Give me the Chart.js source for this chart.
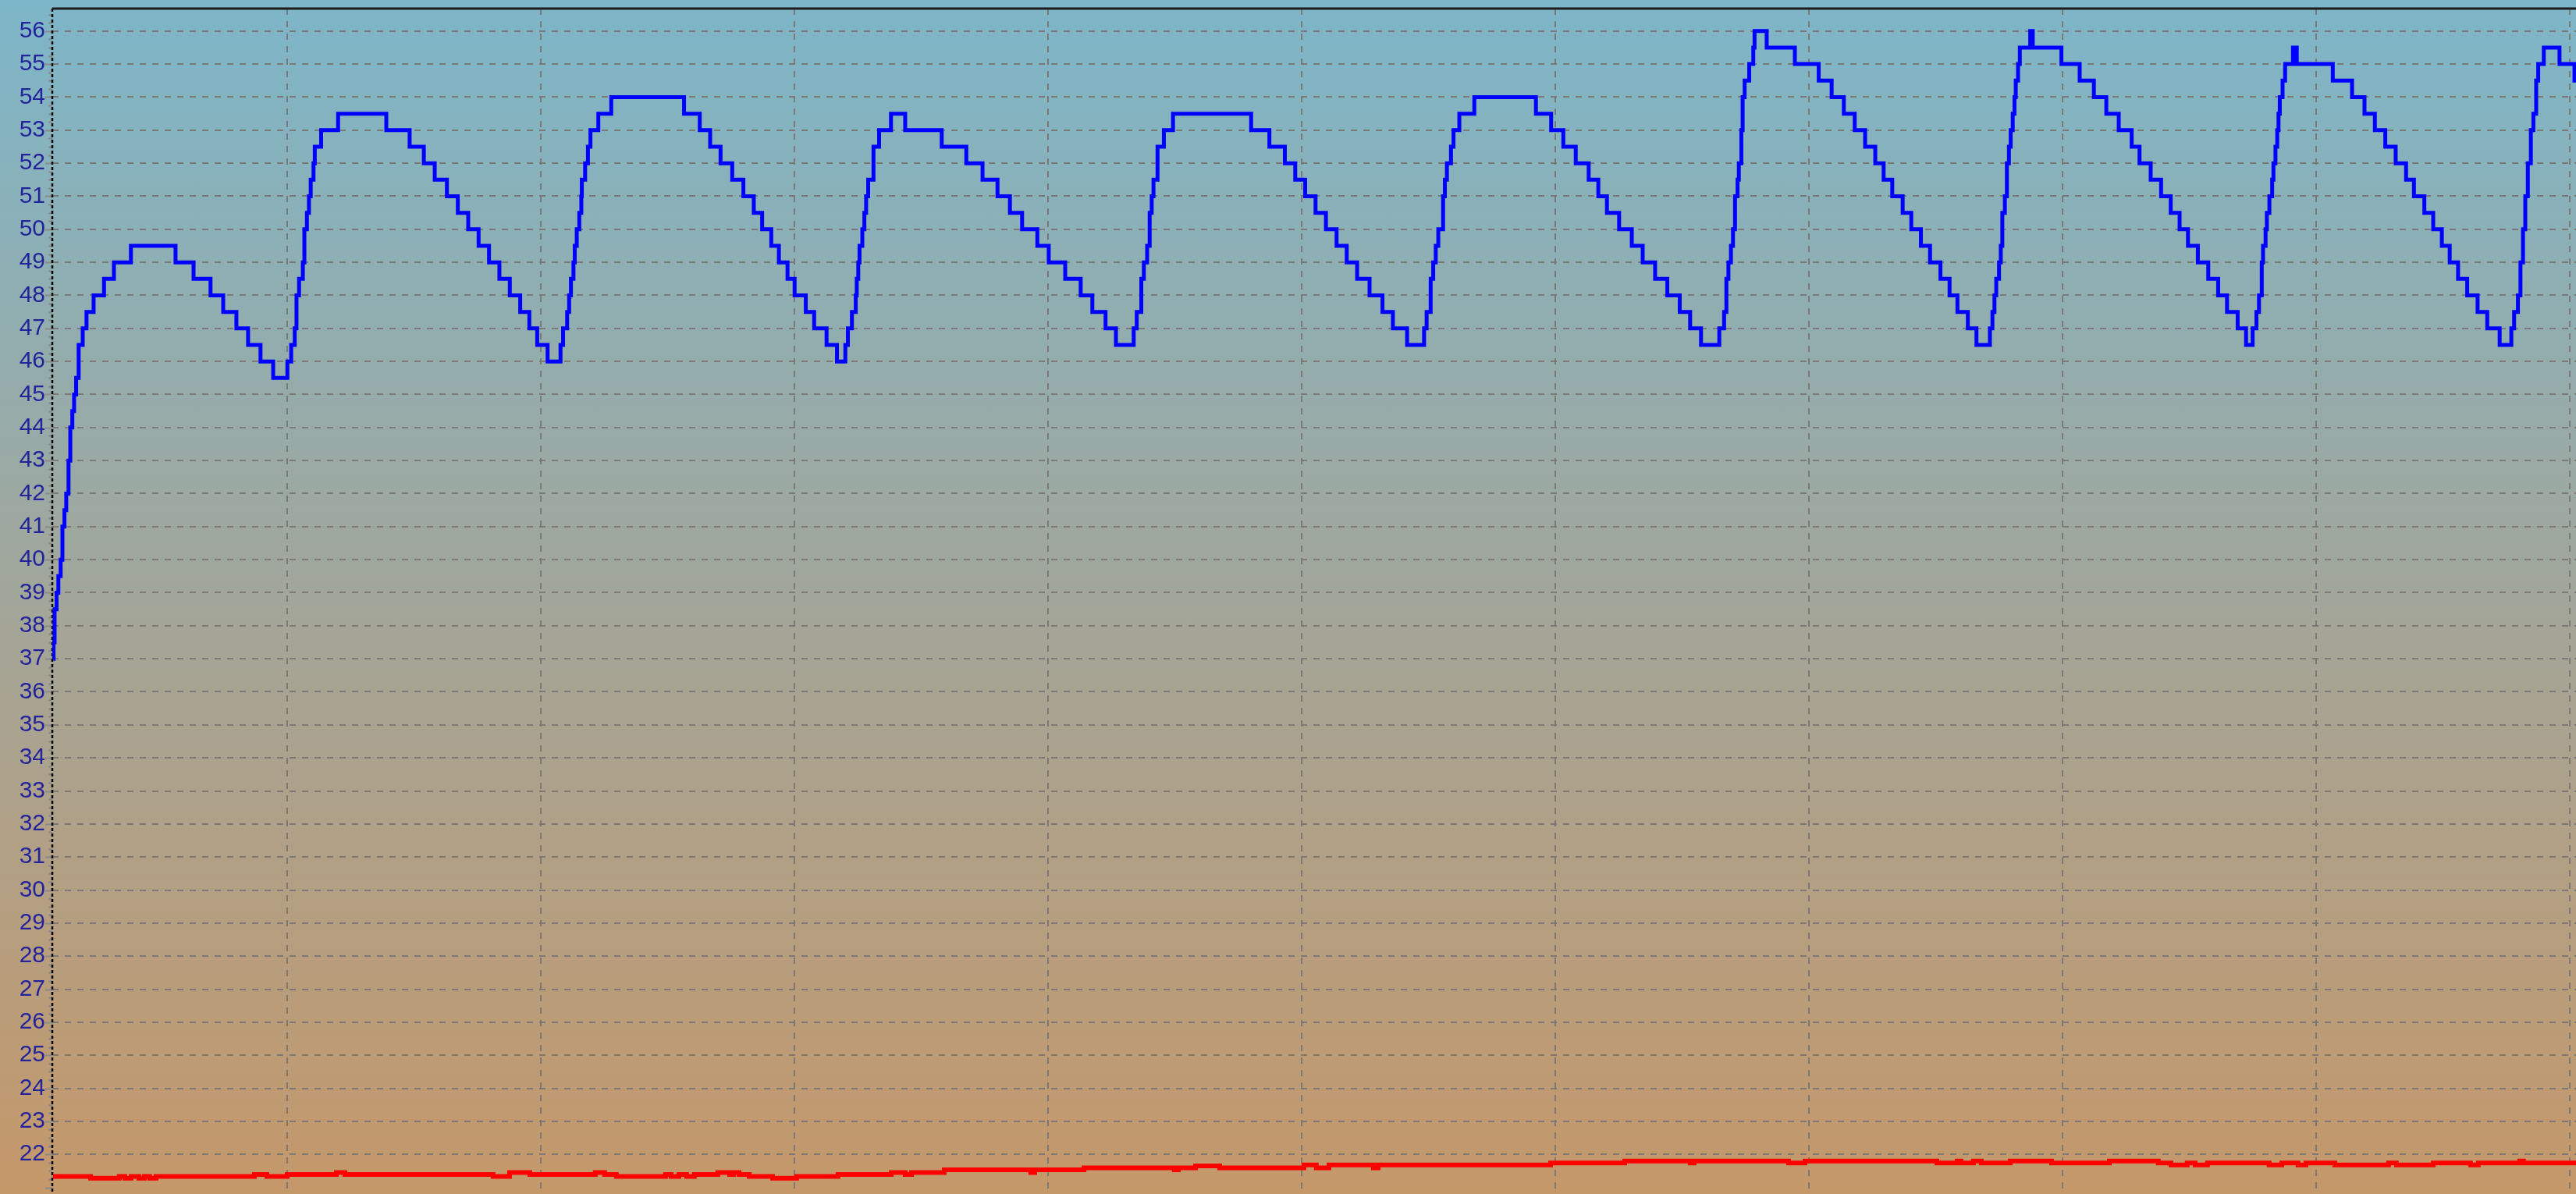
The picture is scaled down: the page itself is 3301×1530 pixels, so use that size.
<!DOCTYPE html>
<html>
<head>
<meta charset="utf-8">
<title>Temperature log</title>
<script src="https://cdn.jsdelivr.net/npm/chart.js@4.4.1/dist/chart.umd.min.js"></script>
<style>
  html, body { margin: 0; padding: 0; }
  #wrap {
    width: 3301px;
    height: 1530px;
    background: linear-gradient(to bottom, #7db6c9 0%, #a2a69a 50%, #c5986a 100%);
  }
</style>
</head>
<body>
<div id="wrap"><canvas id="logChart" width="3301" height="1530"></canvas></div>
<script>
// time axis in minutes, grid every 10 min
const xGridTimes = [10, 20, 30, 40, 50, 60, 70, 80, 90, 100];
const yTickValues = [22, 23, 24, 25, 26, 27, 28, 29, 30, 31, 32, 33, 34, 35, 36, 37, 38, 39,
  40, 41, 42, 43, 44, 45, 46, 47, 48, 49, 50, 51, 52, 53, 54, 55, 56];

// blue probe: value changes (stepped)
const blueTimes = [
  0.78, 0.79, 0.83, 0.91, 0.98, 1.07, 1.14, 1.22, 1.29, 1.38, 1.45, 1.53, 1.60, 1.68, 1.78, 1.94, 2.09, 2.37, 2.78, 3.17, 3.84,
  5.60, 6.31, 6.98, 7.48, 8.00, 8.46, 8.95, 9.45,
  10.01, 10.16, 10.30, 10.37, 10.47, 10.62, 10.68, 10.78, 10.86, 10.93, 11.04, 11.09, 11.34, 12.01,
  13.91, 14.83, 15.39, 15.82, 16.30, 16.73, 17.14, 17.55, 17.96, 18.37, 18.78, 19.19, 19.55, 19.86, 20.27,
  20.78, 20.88, 21.04, 21.12, 21.19, 21.29, 21.34, 21.42, 21.52, 21.60, 21.62, 21.75, 21.86, 21.96, 22.27, 22.78,
  25.65, 26.27, 26.68, 27.09, 27.55, 27.99, 28.40, 28.73, 29.09, 29.39, 29.73, 30.01, 30.45, 30.78, 31.27, 31.68,
  32.01, 32.11, 32.27, 32.42, 32.46, 32.52, 32.57, 32.68, 32.76, 32.83, 32.91, 33.12, 33.34, 33.81, 34.37,
  35.81, 36.78, 37.42, 38.01, 38.50, 38.98, 39.58, 40.03, 40.68, 41.29, 41.75, 42.27, 42.68,
  43.38, 43.50, 43.68, 43.78, 43.91, 44.01, 44.09, 44.16, 44.32, 44.57, 44.93,
  48.01, 48.73, 49.34, 49.75, 50.14, 50.55, 50.96, 51.38, 51.78, 52.19, 52.68, 53.19, 53.60, 54.16,
  54.83, 54.93, 55.09, 55.19, 55.29, 55.39, 55.58, 55.65, 55.73, 55.89, 55.99, 56.22, 56.81,
  59.24, 59.84, 60.32, 60.81, 61.32, 61.70, 62.04, 62.52, 63.02, 63.45, 63.94, 64.42, 64.91, 65.32, 65.75,
  66.47, 66.66, 66.75, 66.83, 66.93, 67.01, 67.09, 67.19, 67.24, 67.34, 67.39, 67.47, 67.65, 67.81, 67.86,
  68.34, 69.45, 70.39, 70.90, 71.38, 71.81, 72.22, 72.62, 72.95, 73.29, 73.70, 74.04, 74.42, 74.78, 75.19,
  75.55, 75.86, 76.27, 76.61,
  77.14, 77.24, 77.32, 77.39, 77.50, 77.57, 77.63, 77.73, 77.81, 77.89, 77.96, 78.04, 78.11, 78.16, 78.25,
  78.32, 78.73, 78.83,
  79.96, 80.68, 81.24, 81.73, 82.22, 82.73, 83.04, 83.48, 83.89, 84.27, 84.62, 84.95, 85.34, 85.75, 86.14,
  86.49, 86.91, 87.24,
  87.50, 87.65, 87.75, 87.86, 87.91, 88.01, 88.06, 88.16, 88.27, 88.32, 88.40, 88.47, 88.52, 88.57, 88.68,
  88.78, 89.09, 89.24,
  90.66, 91.42, 91.91, 92.32, 92.73, 93.14, 93.55, 93.86, 94.27, 94.62, 94.96, 95.27, 95.60, 95.96, 96.37,
  96.75, 97.24,
  97.70, 97.81, 97.96, 98.06, 98.16, 98.25, 98.35, 98.47, 98.57, 98.68, 98.76, 98.98, 99.60, 100.19, 100.25
];
const blueTemps = [
  37, 37.5, 38.5, 39, 39.5, 40, 41, 41.5, 42, 43, 44, 44.5, 45, 45.5, 46.5, 47, 47.5, 48, 48.5, 49, 49.5,
  49, 48.5, 48, 47.5, 47, 46.5, 46, 45.5,
  46, 46.5, 47, 48, 48.5, 49, 50, 50.5, 51, 51.5, 52, 52.5, 53, 53.5,
  53, 52.5, 52, 51.5, 51, 50.5, 50, 49.5, 49, 48.5, 48, 47.5, 47, 46.5, 46,
  46.5, 47, 47.5, 48, 48.5, 49, 49.5, 50, 50.5, 51, 51.5, 52, 52.5, 53, 53.5, 54,
  53.5, 53, 52.5, 52, 51.5, 51, 50.5, 50, 49.5, 49, 48.5, 48, 47.5, 47, 46.5, 46,
  46.5, 47, 47.5, 48, 48.5, 49, 49.5, 50, 50.5, 51, 51.5, 52.5, 53, 53.5, 53,
  52.5, 52, 51.5, 51, 50.5, 50, 49.5, 49, 48.5, 48, 47.5, 47, 46.5,
  47, 47.5, 48.5, 49, 49.5, 50.5, 51, 51.5, 52.5, 53, 53.5,
  53, 52.5, 52, 51.5, 51, 50.5, 50, 49.5, 49, 48.5, 48, 47.5, 47, 46.5,
  47, 47.5, 48.5, 49, 49.5, 50, 51, 51.5, 52, 52.5, 53, 53.5, 54,
  53.5, 53, 52.5, 52, 51.5, 51, 50.5, 50, 49.5, 49, 48.5, 48, 47.5, 47, 46.5,
  47, 47.5, 48.5, 49, 49.5, 50, 51, 51.5, 52, 53, 54, 54.5, 55, 55.5, 56,
  55.5, 55, 54.5, 54, 53.5, 53, 52.5, 52, 51.5, 51, 50.5, 50, 49.5, 49, 48.5,
  48, 47.5, 47, 46.5,
  47, 47.5, 48, 48.5, 49, 49.5, 50.5, 51, 52, 52.5, 53, 53.5, 54, 54.5, 55,
  55.5, 56, 55.5,
  55, 54.5, 54, 53.5, 53, 52.5, 52, 51.5, 51, 50.5, 50, 49.5, 49, 48.5, 48,
  47.5, 47, 46.5,
  47, 47.5, 48, 49, 49.5, 50, 50.5, 51, 51.5, 52, 52.5, 53, 53.5, 54, 54.5,
  55, 55.5, 55,
  54.5, 54, 53.5, 53, 52.5, 52, 51.5, 51, 50.5, 50, 49.5, 49, 48.5, 48, 47.5,
  47, 46.5,
  47, 47.5, 48, 49, 50, 51, 52, 53, 53.5, 54.5, 55, 55.5, 55, 54.5, 54.5
];

// red probe (room side), small quantised wobble
const redTimes = [
  0.77, 2.25, 3.38, 3.60, 3.85, 4.15, 4.37, 4.58, 4.83, 8.71, 9.20, 10.00, 11.94, 12.28,
  18.12, 18.77, 19.57, 22.15, 22.52, 22.98, 24.92, 25.14, 25.45, 25.75, 26.06,
  26.98, 27.45, 27.60, 27.82, 28.22, 29.14, 30.09, 31.72, 33.82, 34.37, 34.62, 35.91,
  39.32, 39.48, 41.42, 44.98, 45.14, 45.82, 46.77, 49.45, 50.09, 50.58, 51.08, 52.83, 53.02,
  59.82, 62.74, 65.32, 65.48, 69.20, 69.85, 75.05, 75.85, 76.00, 76.49, 76.80, 77.94,
  79.57, 81.85, 83.78, 84.28, 84.92, 85.23, 85.72, 88.15, 88.65, 89.29, 89.60, 90.74,
  92.86, 93.17, 94.62, 96.09, 96.40, 98.03, 98.18, 100.25
];
const redTemps = [
  21.33, 21.28, 21.33, 21.28, 21.33, 21.28, 21.33, 21.28, 21.33, 21.39, 21.33, 21.39, 21.45, 21.39,
  21.33, 21.45, 21.39, 21.45, 21.39, 21.33, 21.39, 21.33, 21.39, 21.33, 21.39,
  21.45, 21.39, 21.45, 21.39, 21.33, 21.28, 21.33, 21.39, 21.45, 21.39, 21.45, 21.53,
  21.45, 21.53, 21.59, 21.53, 21.59, 21.65, 21.59, 21.59, 21.68, 21.59, 21.68, 21.59, 21.68,
  21.74, 21.80, 21.74, 21.80, 21.74, 21.80, 21.74, 21.80, 21.74, 21.80, 21.74, 21.80,
  21.74, 21.80, 21.74, 21.68, 21.74, 21.68, 21.74, 21.68, 21.74, 21.68, 21.74, 21.68,
  21.74, 21.68, 21.74, 21.68, 21.74, 21.80, 21.74, 21.74
];

const gridGrey = 'rgba(122, 118, 116, 0.95)';

// ticks left of the axis, dashed black axis line and top frame
const axisDecor = {
  id: 'axisDecor',
  beforeDatasetsDraw(chart) {
    const { ctx, chartArea, scales } = chart;
    const y = scales.y;
    ctx.save();
    ctx.strokeStyle = '#8a8a8a';
    ctx.lineWidth = 2;
    const first = Math.ceil(y.min * 4);
    const last = Math.floor(y.max * 4);
    for (let i = first; i <= last; i++) {
      const py = Math.round(y.getPixelForValue(i / 4)) + 0.5;
      const len = i % 4 === 0 ? 9 : 5;
      ctx.beginPath();
      ctx.moveTo(chartArea.left - len, py);
      ctx.lineTo(chartArea.left, py);
      ctx.stroke();
    }
    ctx.strokeStyle = '#000000';
    ctx.lineWidth = 2.5;
    ctx.setLineDash([4, 3]);
    ctx.beginPath();
    ctx.moveTo(chartArea.left, chartArea.top);
    ctx.lineTo(chartArea.left, chartArea.bottom);
    ctx.stroke();
    ctx.setLineDash([]);
    ctx.strokeStyle = '#1c1c1c';
    ctx.lineWidth = 3;
    ctx.beginPath();
    ctx.moveTo(chartArea.left, chartArea.top);
    ctx.lineTo(chartArea.right, chartArea.top);
    ctx.stroke();
    ctx.restore();
  }
};

const ctx = document.getElementById('logChart').getContext('2d');

new Chart(ctx, {
  type: 'line',
  data: {
    datasets: [{
      label: 'Probe 1',
      data: blueTimes.map((t, i) => ({ x: t, y: blueTemps[i] })),
      borderColor: '#0000ff',
      borderWidth: 5,
      stepped: true,
      pointRadius: 0,
      fill: false
    }, {
      label: 'Probe 2',
      data: redTimes.map((t, i) => ({ x: t, y: redTemps[i] })),
      borderColor: '#ff0000',
      borderWidth: 6,
      stepped: true,
      pointRadius: 0,
      fill: false
    }]
  },
  options: {
    responsive: false,
    animation: false,
    devicePixelRatio: 1,
    layout: { padding: { top: 11, right: 0, bottom: 0, left: 0 } },
    plugins: {
      legend: { display: false },
      tooltip: { enabled: false }
    },
    scales: {
      x: {
        type: 'linear',
        min: 0.74,
        max: 100.25,
        afterBuildTicks: scale => { scale.ticks = xGridTimes.map(v => ({ value: v })); },
        afterFit: scale => { scale.height = 0; scale.paddingLeft = 0; scale.paddingRight = 0; },
        ticks: { display: false },
        grid: { color: gridGrey, lineWidth: 2, drawTicks: false },
        border: { display: false, dash: [8, 8] }
      },
      y: {
        type: 'linear',
        min: 20.8,
        max: 56.68,
        afterBuildTicks: scale => { scale.ticks = yTickValues.map(v => ({ value: v })); },
        afterFit: scale => { scale.width = 67; scale.paddingTop = 0; scale.paddingBottom = 0; },
        ticks: {
          color: '#24249a',
          padding: 9,
          font: { family: "'Liberation Sans', Arial, sans-serif", size: 30 }
        },
        grid: { color: gridGrey, lineWidth: 2, drawTicks: false },
        border: { display: false, dash: [8, 8] }
      }
    }
  },
  plugins: [axisDecor]
});
</script>
</body>
</html>
